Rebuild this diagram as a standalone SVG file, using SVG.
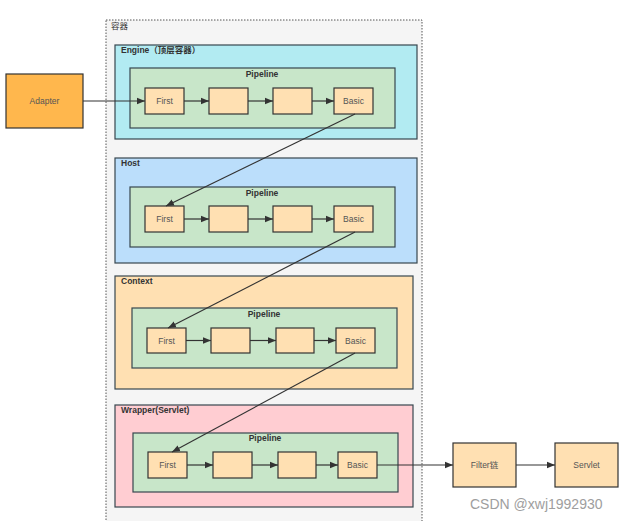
<svg xmlns="http://www.w3.org/2000/svg" width="635" height="521" viewBox="0 0 635 521">
<style>
text{font-family:"Liberation Sans","Noto Sans CJK SC",sans-serif;}
.t{font-size:8.5px;font-weight:bold;fill:#333;}
.b{font-size:8.5px;fill:#555;text-anchor:middle;}
.pl{fill:#c8e6c9;stroke:#37474f;stroke-width:1.2;}
.bx{fill:#ffe0b2;stroke:#333;stroke-width:1.2;}
.c{stroke:#333;stroke-width:1.2;fill:none;marker-end:url(#ah);}
</style>
<defs>
<marker id="ah" viewBox="0 0 10 10" refX="10" refY="5" markerWidth="8" markerHeight="8" markerUnits="userSpaceOnUse" orient="auto">
<path d="M0,1 L10,5 L0,9 Z" fill="#333"/>
</marker>
</defs>
<rect width="635" height="521" fill="#fff"/>
<g id="container">
<rect x="106" y="20" width="316" height="510" fill="#f5f5f5" stroke="#555" stroke-width="1" stroke-dasharray="1.5,1.5"/>
<text x="111" y="29" class="t" style="font-weight:normal">容器</text>
</g>
<g id="adapter">
<rect x="6" y="74" width="77" height="54" fill="#ffb74d" stroke="#333" stroke-width="1.2"/>
<text x="44.5" y="104" class="b">Adapter</text>
</g>
<g id="engine">
<rect x="115" y="45" width="302" height="94" fill="#b2ebf2" stroke="#37474f" stroke-width="1.2"/>
<text x="121" y="53" class="t">Engine（顶层容器）</text>
<rect x="130" y="68" width="265" height="60" class="pl"/>
<text x="262" y="77" class="t" text-anchor="middle">Pipeline</text>
<rect x="145" y="88" width="39" height="26" class="bx"/><text x="164.5" y="104" class="b">First</text>
<rect x="209" y="88" width="39" height="26" class="bx"/>
<rect x="273" y="88" width="39" height="26" class="bx"/>
<rect x="334" y="88" width="39" height="26" class="bx"/><text x="353.5" y="104" class="b">Basic</text>
</g>
<g id="host">
<rect x="115" y="158" width="302" height="105" fill="#bbdefb" stroke="#37474f" stroke-width="1.2"/>
<text x="121" y="166" class="t">Host</text>
<rect x="130" y="187" width="265" height="60" class="pl"/>
<text x="262" y="196" class="t" text-anchor="middle">Pipeline</text>
<rect x="145" y="206" width="39" height="26" class="bx"/><text x="164.5" y="222" class="b">First</text>
<rect x="209" y="206" width="39" height="26" class="bx"/>
<rect x="273" y="206" width="39" height="26" class="bx"/>
<rect x="334" y="206" width="39" height="26" class="bx"/><text x="353.5" y="222" class="b">Basic</text>
</g>
<g id="context">
<rect x="115" y="276" width="298" height="113" fill="#ffe0b2" stroke="#37474f" stroke-width="1.2"/>
<text x="121" y="284" class="t">Context</text>
<rect x="132" y="308" width="265" height="60" class="pl"/>
<text x="264" y="317" class="t" text-anchor="middle">Pipeline</text>
<rect x="147" y="328" width="39" height="25" class="bx"/><text x="166.5" y="344" class="b">First</text>
<rect x="211" y="328" width="39" height="25" class="bx"/>
<rect x="276" y="328" width="38" height="25" class="bx"/>
<rect x="336" y="328" width="39" height="25" class="bx"/><text x="355.5" y="344" class="b">Basic</text>
</g>
<g id="wrapper">
<rect x="115" y="405" width="298" height="102" fill="#ffcdd2" stroke="#37474f" stroke-width="1.2"/>
<text x="121" y="413" class="t">Wrapper(Servlet)</text>
<rect x="133" y="433" width="265" height="59" class="pl"/>
<text x="265" y="441" class="t" text-anchor="middle">Pipeline</text>
<rect x="148" y="452" width="39" height="26" class="bx"/><text x="167.5" y="468" class="b">First</text>
<rect x="213" y="452" width="39" height="26" class="bx"/>
<rect x="278" y="452" width="38" height="26" class="bx"/>
<rect x="338" y="452" width="39" height="26" class="bx"/><text x="357.5" y="468" class="b">Basic</text>
</g>
<g id="filter">
<rect x="453" y="443" width="63" height="44" class="bx"/>
<text x="484.5" y="468" class="b">Filter链</text>
</g>
<g id="servlet">
<rect x="555" y="443" width="63" height="44" class="bx"/>
<text x="586.5" y="468" class="b">Servlet</text>
</g>
<g id="connectors">
<line x1="83" y1="101" x2="145" y2="101" class="c"/>
<line x1="184" y1="101" x2="209" y2="101" class="c"/>
<line x1="248" y1="101" x2="273" y2="101" class="c"/>
<line x1="312" y1="101" x2="334" y2="101" class="c"/>
<line x1="184" y1="219" x2="209" y2="219" class="c"/>
<line x1="248" y1="219" x2="273" y2="219" class="c"/>
<line x1="312" y1="219" x2="334" y2="219" class="c"/>
<line x1="186" y1="340.5" x2="211" y2="340.5" class="c"/>
<line x1="250" y1="340.5" x2="276" y2="340.5" class="c"/>
<line x1="314" y1="340.5" x2="336" y2="340.5" class="c"/>
<line x1="187" y1="465" x2="213" y2="465" class="c"/>
<line x1="252" y1="465" x2="278" y2="465" class="c"/>
<line x1="316" y1="465" x2="338" y2="465" class="c"/>
<line x1="377" y1="465" x2="453" y2="465" class="c"/>
<line x1="516" y1="465" x2="555" y2="465" class="c"/>
<line x1="355" y1="114" x2="166" y2="206" class="c"/>
<line x1="355" y1="232" x2="168" y2="328" class="c"/>
<line x1="355" y1="353" x2="172" y2="452" class="c"/>
</g>
<text x="470" y="509" style="font-size:14px;fill:#9e9e9e;">CSDN @xwj1992930</text>
</svg>
